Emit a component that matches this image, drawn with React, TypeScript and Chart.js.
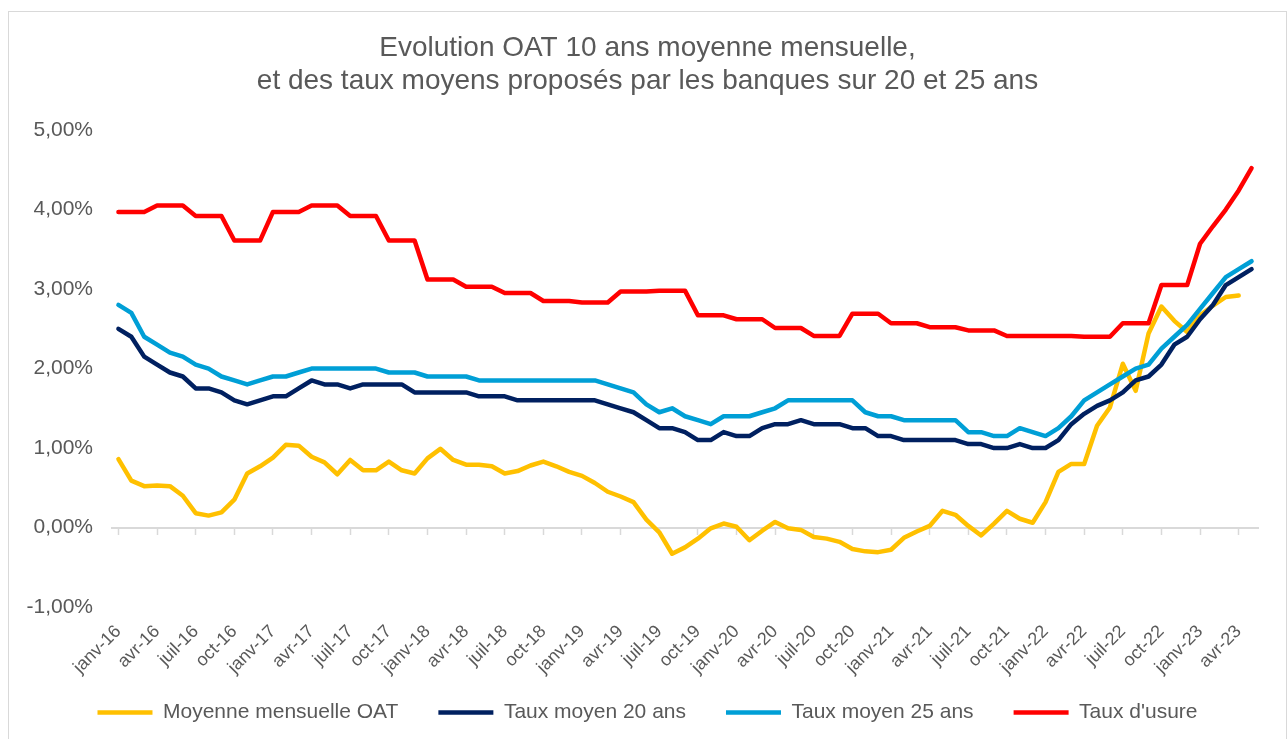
import React, { useEffect, useRef } from 'react';
import { Chart, registerables } from 'chart.js';

Chart.register(...registerables);

const MONTHS = ['janv', 'févr', 'mars', 'avr', 'mai', 'juin', 'juil', 'août', 'sept', 'oct', 'nov', 'déc'];
const YEARS = ['16', '17', '18', '19', '20', '21', '22', '23'];
const MONTHS_IN_2023 = 5;

const LABELS: string[] = [];
YEARS.forEach((y, yi) => {
  const n = yi === YEARS.length - 1 ? MONTHS_IN_2023 : 12;
  for (let m = 0; m < n; m++) LABELS.push(`${MONTHS[m]}-${y}`);
});

const OAT = [
  0.86, 0.59, 0.52, 0.53, 0.52, 0.40, 0.18, 0.15, 0.19, 0.35, 0.68, 0.77,
  0.88, 1.04, 1.03, 0.89, 0.82, 0.67, 0.85, 0.72, 0.72, 0.83, 0.72, 0.68,
  0.87, 0.99, 0.85, 0.79, 0.79, 0.77, 0.68, 0.71, 0.78, 0.83, 0.77, 0.70,
  0.65, 0.56, 0.45, 0.39, 0.32, 0.10, -0.06, -0.33, -0.25, -0.14, -0.01, 0.05,
  0.01, -0.16, -0.04, 0.07, -0.01, -0.03, -0.12, -0.14, -0.18, -0.27, -0.30, -0.31,
  -0.28, -0.13, -0.05, 0.02, 0.21, 0.16, 0.02, -0.10, 0.05, 0.21, 0.11, 0.06,
  0.32, 0.70, 0.80, 0.80, 1.28, 1.51, 2.06, 1.72, 2.44, 2.78, 2.60, 2.46,
  2.67, 2.79, 2.90, 2.92, null,
];

const TAUX_20 = [
  2.50, 2.40, 2.15, 2.05, 1.95, 1.90, 1.75, 1.75, 1.70, 1.60, 1.55, 1.60,
  1.65, 1.65, 1.75, 1.85, 1.80, 1.80, 1.75, 1.80, 1.80, 1.80, 1.80, 1.70,
  1.70, 1.70, 1.70, 1.70, 1.65, 1.65, 1.65, 1.60, 1.60, 1.60, 1.60, 1.60,
  1.60, 1.60, 1.55, 1.50, 1.45, 1.35, 1.25, 1.25, 1.20, 1.10, 1.10, 1.20,
  1.15, 1.15, 1.25, 1.30, 1.30, 1.35, 1.30, 1.30, 1.30, 1.25, 1.25, 1.15,
  1.15, 1.10, 1.10, 1.10, 1.10, 1.10, 1.05, 1.05, 1.00, 1.00, 1.05, 1.00,
  1.00, 1.10, 1.30, 1.43, 1.53, 1.60, 1.70, 1.85, 1.90, 2.05, 2.30, 2.40,
  2.62, 2.80, 3.05, 3.15, 3.25,
];

const TAUX_25 = [
  2.80, 2.70, 2.40, 2.30, 2.20, 2.15, 2.05, 2.00, 1.90, 1.85, 1.80, 1.85,
  1.90, 1.90, 1.95, 2.00, 2.00, 2.00, 2.00, 2.00, 2.00, 1.95, 1.95, 1.95,
  1.90, 1.90, 1.90, 1.90, 1.85, 1.85, 1.85, 1.85, 1.85, 1.85, 1.85, 1.85,
  1.85, 1.85, 1.80, 1.75, 1.70, 1.55, 1.45, 1.50, 1.40, 1.35, 1.30, 1.40,
  1.40, 1.40, 1.45, 1.50, 1.60, 1.60, 1.60, 1.60, 1.60, 1.60, 1.45, 1.40,
  1.40, 1.35, 1.35, 1.35, 1.35, 1.35, 1.20, 1.20, 1.15, 1.15, 1.25, 1.20,
  1.15, 1.25, 1.40, 1.60, 1.70, 1.80, 1.90, 2.00, 2.05, 2.25, 2.40, 2.55,
  2.75, 2.95, 3.15, 3.25, 3.35,
];

const USURE = [
  3.97, 3.97, 3.97, 4.05, 4.05, 4.05, 3.92, 3.92, 3.92, 3.61, 3.61, 3.61,
  3.97, 3.97, 3.97, 4.05, 4.05, 4.05, 3.92, 3.92, 3.92, 3.61, 3.61, 3.61,
  3.12, 3.12, 3.12, 3.03, 3.03, 3.03, 2.95, 2.95, 2.95, 2.85, 2.85, 2.85,
  2.83, 2.83, 2.83, 2.97, 2.97, 2.97, 2.98, 2.98, 2.98, 2.67, 2.67, 2.67,
  2.62, 2.62, 2.62, 2.51, 2.51, 2.51, 2.41, 2.41, 2.41, 2.69, 2.69, 2.69,
  2.57, 2.57, 2.57, 2.52, 2.52, 2.52, 2.48, 2.48, 2.48, 2.41, 2.41, 2.41,
  2.41, 2.41, 2.41, 2.40, 2.40, 2.40, 2.57, 2.57, 2.57, 3.05, 3.05, 3.05,
  3.57, 3.79, 4.00, 4.24, 4.52,
];

const SERIES_NAMES = ['Moyenne mensuelle OAT', 'Taux moyen 20 ans', 'Taux moyen 25 ans', "Taux d'usure"];
const SERIES_COLORS = ['#FFC000', '#002060', '#009FD6', '#FF0000'];
const TITLE_LINES = ['Evolution OAT 10 ans moyenne mensuelle,', 'et des taux moyens proposés par les banques sur 20 et 25 ans'];
const Y_MIN = -1;
const Y_MAX = 5;
const Y_STEP = 1;
const LABEL_EVERY = 3;

const FONT = "'Liberation Sans', Arial, sans-serif";
const TEXT = '#595959';
const AXIS = '#D9D9D9';
const CLEAR = 'rgba(0,0,0,0)';

export default function App() {
  const ref = useRef<HTMLCanvasElement | null>(null);

  useEffect(() => {
    if (!ref.current) return;
    const seriesData = [OAT, TAUX_20, TAUX_25, USURE];
    const chart = new Chart(ref.current, {
      type: 'line',
      data: {
        labels: LABELS,
        datasets: seriesData.map((d, i) => ({
          label: SERIES_NAMES[i],
          data: d,
          borderColor: SERIES_COLORS[i],
          backgroundColor: SERIES_COLORS[i],
          borderWidth: 4.5,
          borderCapStyle: 'round',
          borderJoinStyle: 'round',
          pointRadius: 0,
          pointHoverRadius: 0,
          tension: 0,
          fill: false,
          spanGaps: false,
          order: 4 - i,
          xAxisID: 'x',
          yAxisID: 'y',
        })),
      },
      options: {
        animation: false,
        responsive: true,
        maintainAspectRatio: false,
        layout: { padding: { left: 0, right: 0, top: 0, bottom: 17 } },
        plugins: {
          title: {
            display: true,
            text: TITLE_LINES,
            color: TEXT,
            font: { family: FONT, size: 28, weight: 'normal', lineHeight: 1.18 },
            padding: { top: 19.5, bottom: 32.5 },
          },
          legend: {
            display: true,
            position: 'bottom',
            labels: {
              color: TEXT,
              font: { family: FONT, size: 21 },
              usePointStyle: true,
              pointStyle: 'line',
              pointStyleWidth: 55,
              padding: 40,
              sort: (a: any, b: any) => a.datasetIndex - b.datasetIndex,
            },
          },
          tooltip: { enabled: false },
        },
        scales: {
          x: {
            type: 'category',
            position: 'bottom',
            offset: true,
            grid: { display: false, drawTicks: false },
            border: { display: false },
            ticks: { display: false },
            afterFit: (s: any) => {
              s.height = 55;
            },
          },
          xLabels: {
            type: 'category',
            position: { y: Y_MIN } as any,
            offset: true,
            grid: {
              display: true,
              drawOnChartArea: false,
              drawTicks: true,
              tickLength: 14,
              tickColor: CLEAR,
            },
            border: { display: false },
            ticks: {
              display: true,
              autoSkip: false,
              minRotation: 45,
              maxRotation: 45,
              padding: 0,
              color: TEXT,
              font: { family: FONT, size: 18 },
              callback: (_v: any, idx: number) => (idx % LABEL_EVERY === 0 ? LABELS[idx] : ''),
            },
          },
          xZero: {
            type: 'category',
            position: { y: 0 } as any,
            offset: true,
            grid: {
              display: true,
              drawOnChartArea: false,
              drawTicks: true,
              tickLength: 6,
              tickWidth: 1.5,
              tickColor: (c: any) => (typeof c.index === 'number' && c.index % LABEL_EVERY === 0 ? AXIS : CLEAR),
            },
            border: { display: true, color: AXIS, width: 2 },
            ticks: { display: false, autoSkip: false },
          },
          y: {
            type: 'linear',
            position: 'left',
            min: Y_MIN,
            max: Y_MAX,
            grid: { display: false, drawTicks: false },
            border: { display: false },
            ticks: {
              stepSize: Y_STEP,
              padding: 19,
              color: TEXT,
              font: { family: FONT, size: 21 },
              callback: (v: any) => `${Number(v).toFixed(2).replace('.', ',')}%`,
            },
            afterFit: (s: any) => {
              s.width = 103;
            },
          },
          yRight: {
            type: 'linear',
            position: 'right',
            display: true,
            min: Y_MIN,
            max: Y_MAX,
            grid: { display: false, drawTicks: false },
            border: { display: false },
            ticks: { display: false },
            afterFit: (s: any) => {
              s.width = 28;
            },
          },
        },
      } as any,
    });
    return () => chart.destroy();
  }, []);

  return (
    <div
      style={{
        position: 'fixed',
        left: 8,
        top: 11,
        width: 1279,
        height: 740,
        border: `1px solid ${AXIS}`,
        boxSizing: 'border-box',
        background: '#fff',
      }}
    >
      <div style={{ position: 'relative', width: 1277, height: 738 }}>
        <canvas ref={ref} style={{ display: 'block' }} />
      </div>
    </div>
  );
}
